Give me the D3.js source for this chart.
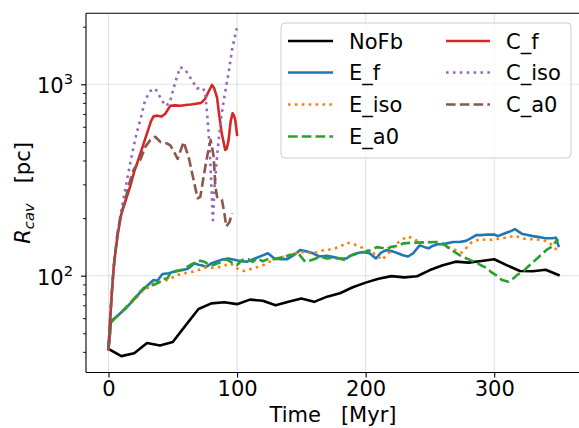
<!DOCTYPE html>
<html><head><meta charset="utf-8">
<script src="https://cdn.jsdelivr.net/npm/d3@7"></script>
<style>body{margin:0;background:#fff}text{font-family:"DejaVu Sans",sans-serif}</style>
</head><body><svg id="c" width="579" height="428"></svg>
<script>
// ---- data ----
const xTicks = [0, 100, 200, 300];
const yMajorTicks = [100, 1000];
const yMajorLabels = [["10","2"],["10","3"]];
const yMinorTicks = [40,50,60,70,80,90,200,300,400,500,600,700,800,900,2000];

const noFbT = [0,10,20,30,40,50,60,70,80,90,100,110,120,130,140,150,160,170,180,190,200,210,220,230,240,250,260,270,280,290,300,310,320,330,340,350];
const noFbV = [41.4,38,39.3,44.5,43.2,45,55,67,71.7,72.6,71,75,74,70,73,76,73,77.7,81,87,92,96.5,99.5,98,99.3,107,113.5,118.4,117,119.3,121.8,113.3,105.8,105.4,107.5,100.8];

const efT = [0,2,5,9,14,18,22,25,29,32,35,38,42,47,53,58,62,67,70,73,76,80,83,88,93,98,103,108,114,119,124,129,134,139,144,149,154,159,164,170,175,180,185,189,193,198,203,208,212,216,221,225,229,233,237,242,246,249,252,256,260,264,268,273,278,282,286,290,295,300,303,307,310,313,316,319,322,326,330,335,340,345,348,350];
const efV = [41.4,58,60,63.5,68,73,78,82.5,87,91,95,94,102,103,106,107,109,116,114,113,111,116,118,121,123,121,119,118.5,123,127,131,123,122,122,128,136,134,131,126,127,125,123,123,128,131,133,131,123,132,136,134,131,128,126,131,144,141,139,143,146,146,148,150,150,152,157,163,163,164,164,161,165,168,171,175,170,165,163,161,159,157,157,158,143];

const eisoT = [0,2,6,12,16,20,26,30,35,40,45.5,50,53,57,61,66,70,76,82,88,94.7,98,101,106,112,116,120.6,124,128,132,136,140,144,149,153,157,160.8,164,167.3,172,176.4,181,185.5,190.6,195.8,200,204.9,208.8,212.6,217.8,223,227,232,237,242.5,247.7,252.9,258,263,268.4,274.9,282.7,289,294,299.5,304.7,310,316.3,320,325.4,330,335.8,340,343.5,346.1,350];
const eisoV = [41.4,57,61,66,70,74.6,82.5,86,91,93,95,98,100.8,102,103.7,105,107,110.6,110,111.4,116,112,108,105.8,109,111,113.7,117,120.8,123,125.7,128,130.8,132,133.5,131,132,134,136,137,139,143,148.8,146.4,141.7,137,132,128.3,120.8,130.8,144.7,152,160,157,148,149.6,150,147,141.7,137.4,132,150,155,154,154,157,158,161.8,158,155,155,154,152,147.6,141.7,133.5];

const ea0T = [0,2,5,10.5,15,20.8,27.3,31,35,39,43,46,48,54.5,59,63.6,67.5,71.4,75,78,81.7,85,88.2,92,96,100,103.8,109,112,115.5,120,124,128.4,134.9,141.4,147.8,150,153,158.2,164.7,170,175,179,183,188,194.5,199,203.6,208.8,212,216.5,220,224.3,229.5,237.3,247.7,255,258,262,265.8,270,275,281,286.5,290,294.3,298,302,306,311,315,318,322.8,326,330.6,334,338.4,341,344.8,348.7,350];
const ea0V = [41.4,57,60,64.8,70,77,86,89,89.4,92,96,97,103.7,106,109,113.7,117,119.8,118,114,113.7,116,118.4,121.8,117,113.7,120.8,121.8,118,123,119,122,121.8,124.8,128.3,130.8,125,118.4,120.8,125.7,123,124,123,121,127,131,133,136,141,140,138,141.7,143,147.6,148.8,149.5,150,150,144,137.4,132,125.7,121,117,113,109.5,104,100,95,93,97,101,106,111,118.4,124,132,137,141.7,153,155];

const cfT = [0,1,2.5,4,5.5,7.5,10,12,15,17,20,23,26,30,33,35,38,41,44,48,52,56,60,64,68,72,75,78,80.5,82,84.4,86,88,90.8,92,93.4,95,96.5,97.5,98.6,100];
const cfV = [41.4,55,80,110,135,170,210,232,268,295,350,400,460,556,640,680,686,678,700,772,776,772,780,785,792,800,837,920,992,960,854,700,556,454,462,511,640,705,690,650,544];

const cisoT = [0,1,2.5,4,5.5,7.5,9.2,12,14.4,17,19.5,22,24.7,28.6,32.5,36.4,40.3,44.2,47.6,52,55.8,59.7,64.9,68.8,72.7,75,76.6,77.9,79.2,80.5,81.2,82.3,84.4,87,90,93.4,96,99.4,100];
const cisoV = [41.4,55,80,110,135,170,203,260,316,390,471,560,650,830,922,950,854,772,798,1031,1229,1190,1050,950,962,920,720,556,402,249,195,280,418,627,854,1145,1508,1920,1960];

const ca0T = [0,1,2.5,4,5.5,6.6,9,13,16,19.5,22,24.7,28.6,32.5,36.4,40.3,45.5,48.1,50.2,53.8,58.4,62.3,66.2,69.3,71.4,72.7,75.3,77,79.5,81.8,83,84.4,86,88.2,90,91.6,94.2,96];
const ca0V = [41.4,55,80,110,135,160,200,249,300,357,380,402,471,511,532,500,491,480,454,408,500,418,316,254,258,292,371,430,511,420,300,258,252,249,215,181,191,212];

const seriesNames = ["NoFb","E_f","E_iso","E_a0","C_f","C_iso","C_a0"];
const seriesColors = ["#000000","#1f77b4","#ff7f0e","#2ca02c","#d62728","#9467bd","#8c564b"];
const seriesT = [noFbT, efT, eisoT, ea0T, cfT, cisoT, ca0T];
const seriesV = [noFbV, efV, eisoV, ea0V, cfV, cisoV, ca0V];
const seriesStyle = ["solid","solid","dotted","dashed","solid","dotted","dashed"];

// ---- layout ----
const L = 86, R = 581, T = 13.3, B = 372.5;
const FS = 21;
const LW = 2.6;
const dashOf = s => s === "dotted" ? `${LW},${LW*1.65}` : s === "dashed" ? `${LW*3.7},${LW*1.6}` : null;

const svg = d3.select("#c");
const x = d3.scaleLinear().domain([-17.5, 367.5]).range([L, R]);
const y = d3.scaleLog().domain([31.2, 2350]).range([B, T]);

svg.append("defs").append("clipPath").attr("id","clip")
  .append("rect").attr("x",L).attr("y",T).attr("width",R-L).attr("height",B-T);

// grid
const grid = svg.append("g").attr("stroke","#b0b0b0").attr("stroke-opacity",0.35).attr("stroke-width",1.1);
grid.selectAll(".gx").data(xTicks).join("line")
  .attr("x1",d=>x(d)).attr("x2",d=>x(d)).attr("y1",T).attr("y2",B);
grid.selectAll(".gy").data(yMajorTicks).join("line")
  .attr("x1",L).attr("x2",R).attr("y1",d=>y(d)).attr("y2",d=>y(d));

// lines
const plot = svg.append("g").attr("clip-path","url(#clip)");
seriesNames.forEach((name,i)=>{
  const pts = seriesT[i].map((t,j)=>[t, seriesV[i][j]]);
  const line = d3.line().x(d=>x(d[0])).y(d=>y(d[1]));
  const p = plot.append("path").datum(pts).attr("d",line)
    .attr("fill","none").attr("stroke",seriesColors[i]).attr("stroke-width",LW)
    .attr("stroke-linejoin","round");
  const da = dashOf(seriesStyle[i]);
  if (da) p.attr("stroke-dasharray",da).attr("stroke-linecap","butt");
  else p.attr("stroke-linecap","square");
});

// axes
const xAxis = svg.append("g").attr("transform",`translate(0,${B})`)
  .call(d3.axisBottom(x).tickValues(xTicks).tickSize(5).tickPadding(4).tickFormat(d3.format("d")));
xAxis.select(".domain").remove();
xAxis.selectAll("text").attr("font-size",FS).attr("fill","#000").attr("font-family","DejaVu Sans");
xAxis.selectAll("line").attr("stroke","#000").attr("stroke-width",1.1);

const yAxis = svg.append("g").attr("transform",`translate(${L},0)`)
  .call(d3.axisLeft(y).tickValues(yMajorTicks).tickSize(5).tickFormat(""));
yAxis.select(".domain").remove();
yAxis.selectAll("line").attr("stroke","#000").attr("stroke-width",1.1);
const yMinor = svg.append("g").attr("transform",`translate(${L},0)`)
  .call(d3.axisLeft(y).tickValues(yMinorTicks).tickSize(3).tickFormat(""));
yMinor.select(".domain").remove();
yMinor.selectAll("line").attr("stroke","#000").attr("stroke-width",0.9);

yMajorTicks.forEach((v,i)=>{
  const t = svg.append("text").attr("x",73).attr("y",y(v)+9).attr("text-anchor","end")
    .attr("font-size",FS).attr("fill","#000");
  t.append("tspan").text(yMajorLabels[i][0]);
  t.append("tspan").attr("font-size",FS*0.7).attr("dy",-9).text(yMajorLabels[i][1]);
});

// spines
const sp = svg.append("g").attr("stroke","#000").attr("stroke-width",1.1).attr("fill","none");
sp.append("line").attr("x1",L).attr("x2",L).attr("y1",T).attr("y2",B);
sp.append("line").attr("x1",L).attr("x2",R).attr("y1",B).attr("y2",B);
sp.append("line").attr("x1",L).attr("x2",R).attr("y1",T).attr("y2",T);

// axis labels
svg.append("text").attr("x",333).attr("y",422).attr("text-anchor","middle")
  .attr("font-size",FS).attr("fill","#000").attr("xml:space","preserve").text("Time   [Myr]");
const yl = svg.append("text").attr("transform",`translate(30,${(T+B)/2}) rotate(-90)`)
  .attr("text-anchor","middle").attr("font-size",FS).attr("fill","#000").attr("xml:space","preserve");
yl.append("tspan").attr("font-style","italic").text("R");
yl.append("tspan").attr("font-style","italic").attr("font-size",FS*0.7).attr("dy",4).text("cav");
yl.append("tspan").attr("dy",-4).text("   [pc]");

// legend
const lg = svg.append("g");
lg.append("rect").attr("x",281).attr("y",23).attr("width",290).attr("height",135).attr("rx",4)
  .attr("fill","#fff").attr("fill-opacity",0.8).attr("stroke","#cccccc").attr("stroke-width",1);
const rowY = [41, 72.5, 104.5, 136.5];
const colX = [[288,333,349],[446,490,506]];
seriesNames.forEach((name,i)=>{
  const c = i < 4 ? 0 : 1, r = i < 4 ? i : i-4;
  const yy = rowY[r];
  const h = lg.append("line").attr("x1",colX[c][0]).attr("x2",colX[c][1]).attr("y1",yy).attr("y2",yy)
    .attr("stroke",seriesColors[i]).attr("stroke-width",LW);
  const da = dashOf(seriesStyle[i]);
  if (da) h.attr("stroke-dasharray",da);
  lg.append("text").attr("x",colX[c][2]).attr("y",yy+7.5).attr("font-size",FS).attr("fill","#000").text(name);
});
</script></body></html>
